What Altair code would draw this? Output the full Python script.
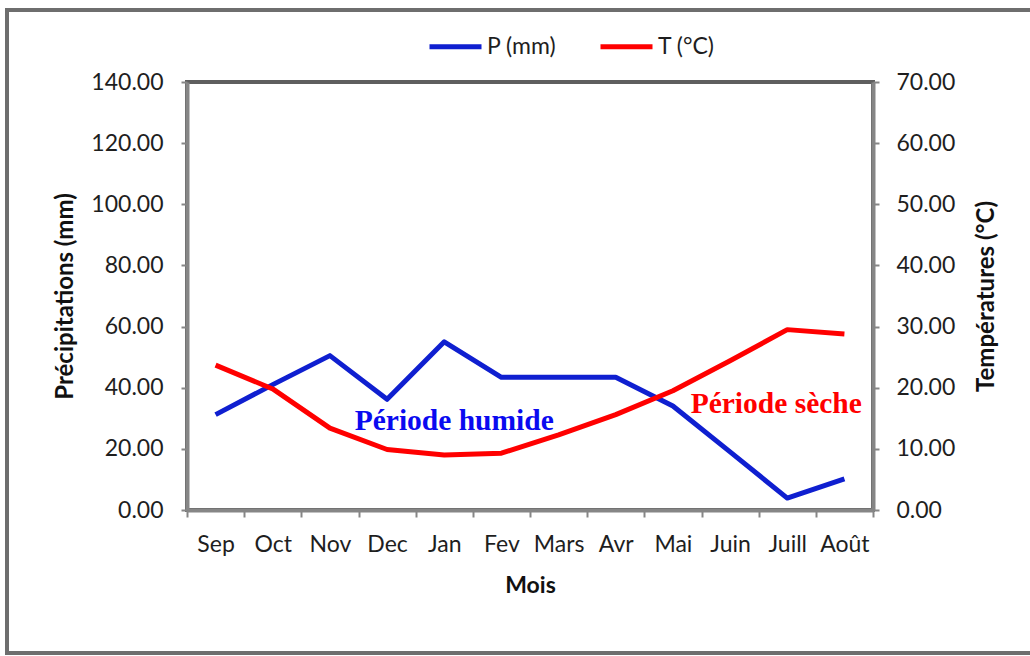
import altair as alt
import pandas as pd

months = ["Sep", "Oct", "Nov", "Dec", "Jan", "Fev", "Mars", "Avr", "Mai", "Juin", "Juill", "Août"]
precip = [31.2, 41.0, 50.5, 36.2, 55.0, 43.4, 43.4, 43.4, 34.0, 19.0, 3.9, 10.2]
temp = [23.7, 19.8, 13.4, 9.9, 9.0, 9.3, 12.3, 15.6, 19.5, 24.4, 29.5, 28.8]
series_names = ["P (mm)", "T (°C)"]
series_colors = ["#0f1fd0", "#ff0000"]
left_ticks = [0, 20, 40, 60, 80, 100, 120, 140]
right_ticks = [0, 10, 20, 30, 40, 50, 60, 70]

dfP = pd.DataFrame({"Mois": months, "val": precip, "serie": series_names[0]})
dfT = pd.DataFrame({"Mois": months, "val": temp, "serie": series_names[1]})
dfH = pd.DataFrame({"Mois": ["Jan"], "val": [26.2], "lab": ["Période humide"]})
dfS = pd.DataFrame({"Mois": ["Juill"], "val": [15.9], "lab": ["Période sèche"]})

AX = "#868686"
LBL = "#1e1e1e"

xenc = alt.X(
    "Mois:N", sort=months, bandPosition=0.5,
    scale=alt.Scale(type="band", paddingInner=0, paddingOuter=0),
    axis=alt.Axis(
        title="Mois", tickBand="extent", labelAngle=0, labelFontSize=23, labelFont="Lato",
        labelColor=LBL, labelPadding=16, tickSize=7, tickColor=AX, tickWidth=2,
        domainColor=AX, domainWidth=4, grid=False,
        titleFontSize=23, titleFont="Lato", titleFontWeight="bold", titleColor="#111111",
        titleY=75, titleBaseline="middle",
    ),
)
xtext = alt.X("Mois:N", sort=months, bandPosition=0.5)

color = alt.Color(
    "serie:N",
    scale=alt.Scale(domain=series_names, range=series_colors),
    legend=alt.Legend(
        title=None, orient="none", legendX=240, legendY=-64, direction="horizontal",
        symbolType="stroke", symbolSize=2704, symbolStrokeWidth=5,
        labelFontSize=23, labelFont="Lato", labelColor=LBL, columnPadding=33, labelOffset=3,
    ),
)

lineP = alt.Chart(dfP).mark_line(strokeWidth=5, strokeJoin="round").encode(
    x=xenc,
    y=alt.Y("val:Q", scale=alt.Scale(domain=[0, 140]),
            axis=alt.Axis(orient="left", values=left_ticks, format=".2f", grid=False,
                          tickSize=6, tickColor=AX, tickWidth=2, domainColor=AX, domainWidth=4,
                          labelFontSize=23, labelFont="Lato", labelColor=LBL, labelPadding=18,
                          title="Précipitations (mm)", titleFontSize=24, titleFont="Lato",
                          titleFontWeight="bold", titleColor="#111111", titleAngle=270,
                          titleX=-122, titleY=214, titleBaseline="middle", titleAlign="center")),
    color=color,
)
textH = alt.Chart(dfH).mark_text(
    font="Liberation Serif", fontWeight="bold", fontSize=29.5, color="#0a0af0",
    baseline="alphabetic", align="center", dx=10,
).encode(x=xtext, y=alt.Y("val:Q"), text="lab:N")

lineT = alt.Chart(dfT).mark_line(strokeWidth=5, strokeJoin="round").encode(
    x=xenc,
    y=alt.Y("val:Q", scale=alt.Scale(domain=[0, 70]),
            axis=alt.Axis(orient="right", values=right_ticks, format=".2f", grid=False,
                          tickSize=6, tickColor=AX, tickWidth=2, domainColor=AX, domainWidth=4,
                          labelFontSize=23, labelFont="Lato", labelColor=LBL, labelPadding=17,
                          title="Températures (°C)", titleFontSize=24, titleFont="Lato",
                          titleFontWeight="bold", titleColor="#111111", titleAngle=270,
                          titleX=113, titleY=214, titleBaseline="middle", titleAlign="center")),
    color=color,
)
textS = alt.Chart(dfS).mark_text(
    font="Liberation Serif", fontWeight="bold", fontSize=29.5, color="#ff0000",
    baseline="alphabetic", align="center", dx=-11,
).encode(x=xtext, y=alt.Y("val:Q"), text="lab:N")

frame = alt.Chart(pd.DataFrame({"a": [0]})).mark_rect(
    fillOpacity=0, stroke="#6e6e6e", strokeWidth=4
).encode(x=alt.value(-180), x2=alt.value(870), y=alt.value(-72), y2=alt.value(571))

left = alt.layer(lineP, textH)
right = alt.layer(lineT, textS)

chart = alt.layer(left, right, frame).resolve_scale(y="independent").properties(
    width=686, height=428,
    padding={"left": 187, "top": 82, "right": 157, "bottom": 146},
    autosize=alt.AutoSizeParams(type="none"),
    background="white",
).configure_view(stroke="#5f5f5f", strokeWidth=4)

chart.save("out.html", embed_options={"renderer": "svg", "actions": False})
